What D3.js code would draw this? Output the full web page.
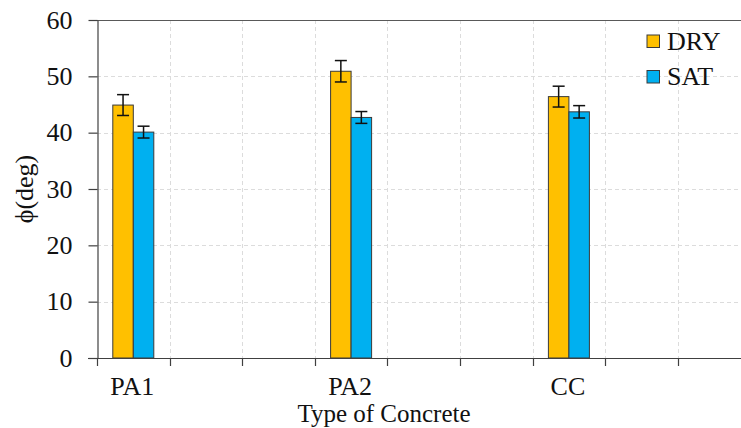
<!DOCTYPE html>
<html>
<head>
<meta charset="utf-8">
<script src="https://cdn.jsdelivr.net/npm/d3@7"></script>
<style>
  html, body { margin: 0; padding: 0; background: #fff; }
  svg { display: block; font-family: "Liberation Serif", "Times New Roman", serif; }
</style>
</head>
<body>
<svg id="chart" width="741" height="428"></svg>
<script>
// Friction angle by concrete type, dry vs saturated
const categories = ["PA1", "PA2", "CC"];
const seriesNames = ["DRY", "SAT"];
const dryValues = [44.9, 50.9, 46.4];
const dryErrors = [1.85, 1.9, 1.85];
const satValues = [40.1, 42.7, 43.7];
const satErrors = [1.05, 1.05, 1.1];
const yTicks = [0, 10, 20, 30, 40, 50, 60];
const colors = { DRY: "#FFC000", SAT: "#00B0F0" };

const svg = d3.select("#chart");
const plotLeft = 97, plotTop = 20, plotBottom = 358, plotRight = 741;
const slotsPerCategory = 3;
const slotWidth = 72.6;
const fontFamily = "'Liberation Serif', 'Times New Roman', serif";

const x = d3.scaleBand()
  .domain(categories)
  .range([plotLeft, plotLeft + categories.length * slotsPerCategory * slotWidth])
  .padding(0);
const y = d3.scaleLinear().domain([0, 60]).range([plotBottom, plotTop]);
const inner = d3.scaleBand().domain(seriesNames).range([-20.5, 20.5]).padding(0);

const rows = categories.map((c, i) => ({
  cat: c,
  vals: [
    { s: "DRY", v: dryValues[i], e: dryErrors[i] },
    { s: "SAT", v: satValues[i], e: satErrors[i] }
  ]
}));

// slot boundaries along the category axis
const slotEdges = [];
categories.forEach(c => {
  for (let k = 0; k < slotsPerCategory; k++) slotEdges.push(x(c) + k * x.bandwidth() / slotsPerCategory);
});
slotEdges.push(x.range()[1]);
const slotCenter = c => x(c) + x.bandwidth() / slotsPerCategory / 2;

// dashed grid
const grid = svg.append("g").attr("stroke", "#dcdcdc").attr("stroke-width", 1).attr("stroke-dasharray", "4,3");
grid.selectAll("line.h").data(yTicks.filter(t => t > 0 && t < 60)).join("line")
  .attr("x1", plotLeft).attr("x2", plotRight)
  .attr("y1", d => Math.round(y(d)) + 0.5).attr("y2", d => Math.round(y(d)) + 0.5);
grid.selectAll("line.v").data(slotEdges.filter(e => e > plotLeft + 1 && e < plotRight)).join("line")
  .attr("x1", d => Math.round(d) + 0.5).attr("x2", d => Math.round(d) + 0.5)
  .attr("y1", plotTop).attr("y2", plotBottom);

// top frame line
svg.append("line").attr("x1", plotLeft).attr("x2", plotRight)
  .attr("y1", y(60) + 0.5).attr("y2", y(60) + 0.5)
  .attr("stroke", "#595959").attr("stroke-width", 1.2);

// bars
const groups = svg.append("g").selectAll("g").data(rows).join("g")
  .attr("transform", d => `translate(${slotCenter(d.cat)},0)`);
groups.selectAll("rect").data(d => d.vals).join("rect")
  .attr("x", d => inner(d.s))
  .attr("width", inner.bandwidth())
  .attr("y", d => y(d.v))
  .attr("height", d => y(0) - y(d.v))
  .attr("fill", d => colors[d.s])
  .attr("stroke", "#3a3a3a").attr("stroke-width", 1);

// error bars
const eb = groups.selectAll("g.err").data(d => d.vals).join("g")
  .attr("class", "err")
  .attr("transform", d => `translate(${inner(d.s) + inner.bandwidth() / 2},0)`)
  .attr("stroke", "#111").attr("stroke-width", 1.5);
eb.append("line").attr("x1", 0).attr("x2", 0)
  .attr("y1", d => y(d.v + d.e)).attr("y2", d => y(d.v - d.e));
eb.append("line").attr("x1", -6).attr("x2", 6)
  .attr("y1", d => y(d.v + d.e)).attr("y2", d => y(d.v + d.e));
eb.append("line").attr("x1", -6).attr("x2", 6)
  .attr("y1", d => y(d.v - d.e)).attr("y2", d => y(d.v - d.e));

// y axis
const yAxis = svg.append("g").attr("transform", `translate(${plotLeft + 0.5},0)`)
  .call(d3.axisLeft(y).tickValues(yTicks).tickSize(9).tickSizeOuter(0).tickPadding(16));
yAxis.select(".domain").attr("stroke", "#404040").attr("stroke-width", 1.2);
yAxis.selectAll(".tick line").attr("stroke", "#404040").attr("stroke-width", 1.2);
yAxis.selectAll(".tick text").attr("fill", "#111").attr("font-size", 26)
  .attr("font-family", fontFamily);

// x axis line and slot ticks
const xg = svg.append("g");
xg.append("line").attr("x1", plotLeft - 9).attr("x2", plotRight)
  .attr("y1", plotBottom + 0.5).attr("y2", plotBottom + 0.5)
  .attr("stroke", "#404040").attr("stroke-width", 1.2);
xg.selectAll("line.t").data(slotEdges.filter(e => e < plotRight)).join("line")
  .attr("x1", d => Math.round(d) + 0.5).attr("x2", d => Math.round(d) + 0.5)
  .attr("y1", plotBottom).attr("y2", plotBottom + 8)
  .attr("stroke", "#404040").attr("stroke-width", 1.2);
xg.selectAll("text").data(categories).join("text")
  .attr("x", d => slotCenter(d) - 1).attr("y", 395)
  .attr("text-anchor", "middle").attr("font-size", 26).attr("fill", "#111")
  .text(d => d);

// axis titles
svg.append("text").attr("x", 384).attr("y", 422)
  .attr("text-anchor", "middle").attr("font-size", 25).attr("fill", "#111")
  .text("Type of Concrete");
svg.append("text")
  .attr("transform", `translate(33,${(plotTop + plotBottom) / 2}) rotate(-90)`)
  .attr("text-anchor", "middle").attr("font-size", 26).attr("fill", "#111")
  .text("ϕ(deg)");

// legend
const legend = svg.append("g").selectAll("g").data(seriesNames).join("g")
  .attr("transform", (d, i) => `translate(647,${35 + i * 35.5})`);
legend.append("rect").attr("width", 12.5).attr("height", 12.5)
  .attr("fill", d => colors[d]).attr("stroke", "#3a3a3a").attr("stroke-width", 1);
legend.append("text").attr("x", 20).attr("y", 14.5)
  .attr("font-size", 26).attr("fill", "#111").text(d => d);
</script>
</body>
</html>
